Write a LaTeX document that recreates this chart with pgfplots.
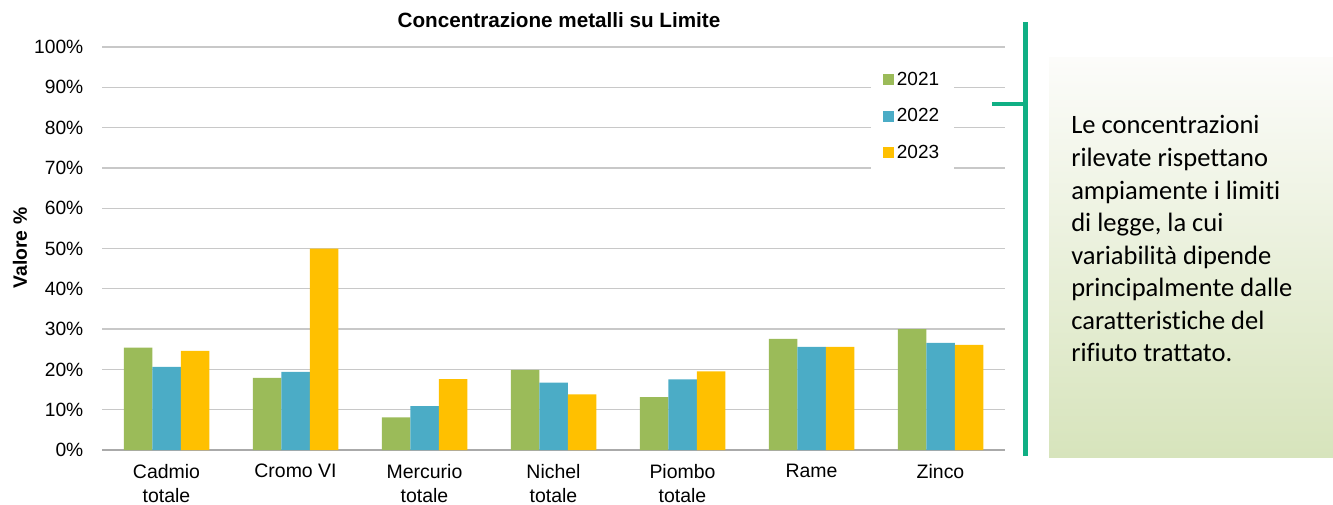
\documentclass[border=0pt]{standalone}
\usepackage{pgfplots}
\pgfplotsset{compat=1.18}
\usepackage{fontspec}
\setmainfont{Liberation Sans}
\newfontfamily\calibri[Ligatures=NoCommon]{Carlito}
\definecolor{c21}{RGB}{155,187,89}
\definecolor{c22}{RGB}{75,172,198}
\definecolor{c23}{RGB}{255,192,0}
\definecolor{gridc}{RGB}{200,200,200}
\definecolor{axc}{RGB}{170,170,170}
\definecolor{brk}{RGB}{16,175,132}
\definecolor{boxtop}{RGB}{252,252,250}
\definecolor{boxbot}{RGB}{215,228,188}
\begin{document}
\begin{tikzpicture}
\useasboundingbox (0pt,0pt) rectangle (999.75pt,378pt);
% text box and bracket
\shade[top color=boxtop, bottom color=boxbot] (786.75pt,35.25pt) rectangle (999.75pt,334.5pt);
\draw[brk, line width=3.75pt] (769.35pt,36pt) -- (769.35pt,361.5pt);
\draw[brk, line width=3pt] (744pt,300pt) -- (769.35pt,300pt);
\foreach \t [count=\i from 0] in {Le concentrazioni,rilevate rispettano,ampiamente i limiti,{di legge, la cui},variabilità dipende,principalmente dalle,caratteristiche del,rifiuto trattato.}{
  \node[anchor=base west, inner sep=0pt, font=\calibri\fontsize{19.9}{24}\selectfont] at (803.25pt,{277.5pt-\i*24.4pt}) {\t};
}
\begin{axis}[
  at={(76.5pt,40.5pt)}, anchor=south west,
  width=677.25pt, height=302.25pt, scale only axis,
  ybar=0pt, bar width=21.375pt,
  xmin=-0.5, xmax=6.5, ymin=0, ymax=100,
  xtick={0,...,6},
  xticklabels={{Cadmio\\totale},{Cromo VI},{Mercurio\\totale},{Nichel\\totale},{Piombo\\totale},{Rame},{Zinco}},
  xticklabel style={align=center, font=\fontsize{14.6}{18}\selectfont, anchor=north, yshift=-7pt},
  ytick={0,10,...,100},
  yticklabels={0\%,10\%,20\%,30\%,40\%,50\%,60\%,70\%,80\%,90\%,100\%},
  yticklabel style={font=\fontsize{14.4}{16}\selectfont, xshift=-10.5pt},
  major tick length=0pt,
  ymajorgrids, grid style={gridc, line width=1pt},
  axis x line*=bottom, axis y line*=left,
  x axis line style={axc, line width=1pt},
  y axis line style={draw=none},
  legend style={at={(0.8516,0.965)}, anchor=north west, draw=none, fill=white,
    font=\fontsize{14.25}{16}\selectfont, row sep=12pt, inner xsep=9pt, inner ysep=6pt},
  legend cell align=left,
  legend image code/.code={\fill[#1] (0pt,-4.125pt) rectangle (8.25pt,4.125pt);},
]
\addplot[fill=c21, draw=none] coordinates {(0,25.4) (1,17.9) (2,8.1) (3,19.9) (4,13.1) (5,27.6) (6,30.0)};
\addplot[fill=c22, draw=none] coordinates {(0,20.6) (1,19.4) (2,10.9) (3,16.7) (4,17.5) (5,25.6) (6,26.6)};
\addplot[fill=c23, draw=none] coordinates {(0,24.6) (1,50.0) (2,17.6) (3,13.8) (4,19.5) (5,25.6) (6,26.1)};
\legend{2021,2022,2023}
\end{axis}
\node[font=\bfseries\fontsize{15.5}{18}\selectfont] at (419.25pt,363pt) {Concentrazione metalli su Limite};
\node[font=\bfseries\fontsize{14.5}{18}\selectfont, rotate=90] at (15pt,192pt) {Valore \%};
\end{tikzpicture}
\end{document}
